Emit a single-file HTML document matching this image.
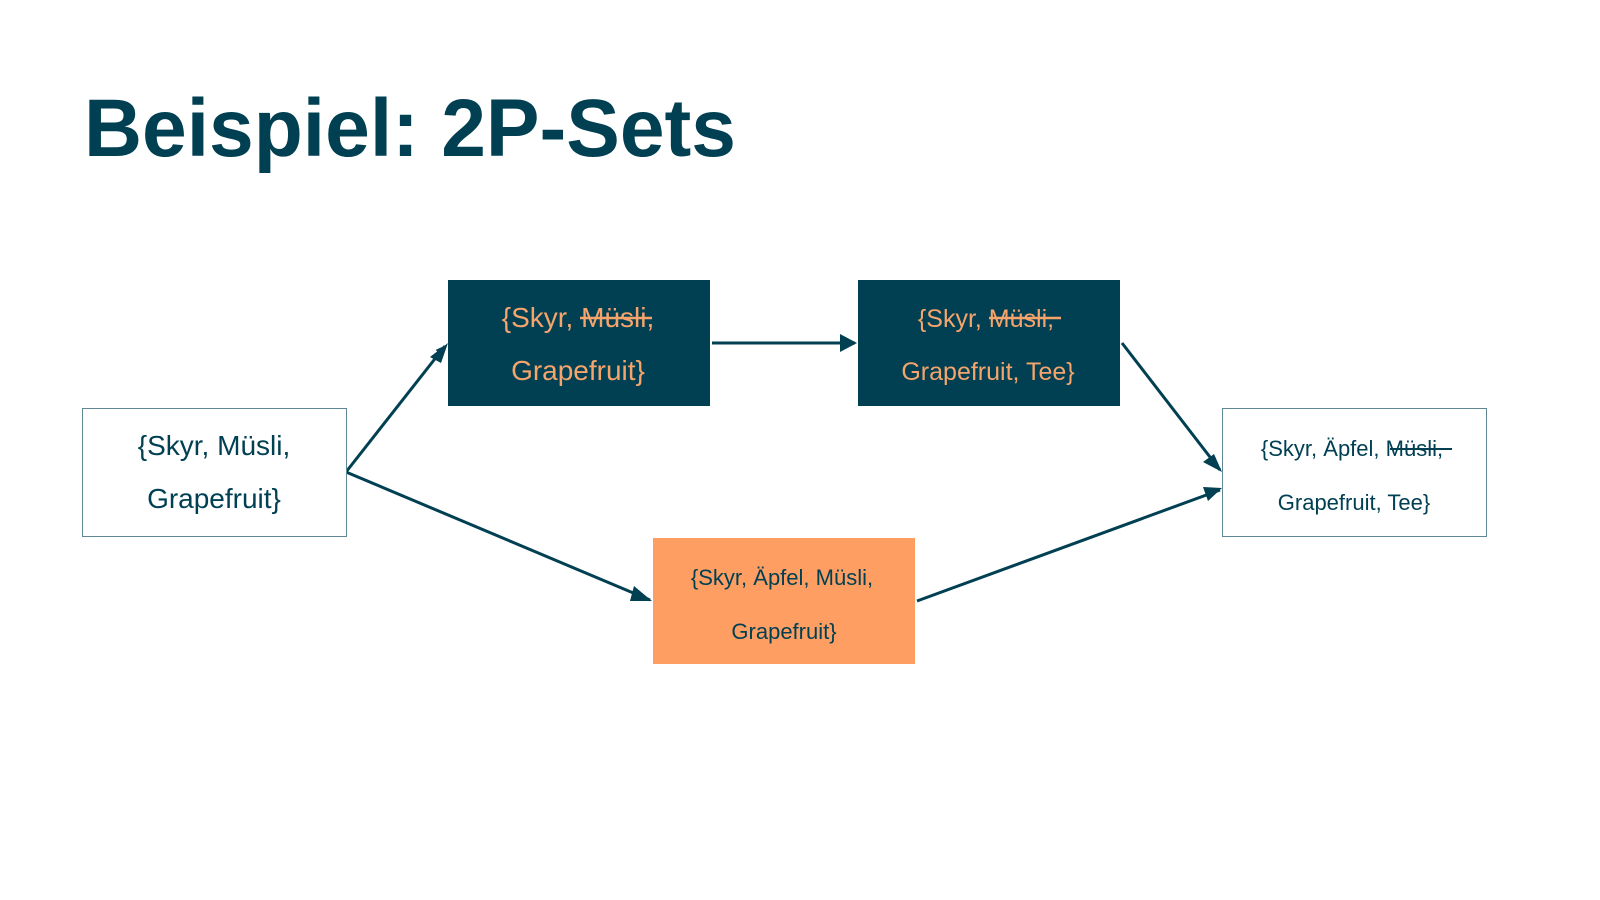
<!DOCTYPE html>
<html><head><meta charset="utf-8"><style>
html,body{margin:0;padding:0;background:#fff;}
svg{display:block;}
text{font-family:"Liberation Sans",sans-serif;}
</style></head><body>
<svg width="1600" height="900" viewBox="0 0 1600 900" xmlns="http://www.w3.org/2000/svg">
<defs>
<marker id="a" markerWidth="10" markerHeight="10" refX="9" refY="5" orient="auto" markerUnits="userSpaceOnUse" viewBox="0 0 10 10">
<path d="M0,0 L10,5 L0,10 z" fill="#004052"/>
</marker>
</defs>
<text x="84" y="156" font-size="82" font-weight="bold" fill="#004052" textLength="652" lengthAdjust="spacingAndGlyphs">Beispiel: 2P-Sets</text>

<g stroke="#004052" stroke-width="3" fill="none">
<line x1="346" y1="472" x2="445" y2="346" marker-end="url(#a)" style="marker-end:url(#a)"/>
<line x1="712" y1="343" x2="855" y2="343"/>
<line x1="346" y1="472" x2="650" y2="600"/>
<line x1="1122" y1="343" x2="1220" y2="470"/>
<line x1="917" y1="601" x2="1220" y2="490"/>
</g>
<g fill="#004052">
<path d="M448,343 L430,357 L441,363 z" transform="rotate(0)"/>
<path d="M857,343 L840,334 L840,352 z"/>
<path d="M652,601 L634,586 L630,601 z" />
<path d="M1222,472 L1214,454 L1203,462 z"/>
<path d="M1222,488 L1203,487 L1208,501 z"/>
</g>

<rect x="82.5" y="408.5" width="264" height="128" fill="#fff" stroke="#5f8794" stroke-width="1"/>
<text x="214" y="455" font-size="28" fill="#004052" text-anchor="middle">{Skyr, Müsli,</text>
<text x="214" y="508" font-size="28" fill="#004052" text-anchor="middle">Grapefruit}</text>

<rect x="448" y="280" width="262" height="126" fill="#004052"/>
<text x="578" y="327" font-size="28" fill="#f6a46c" text-anchor="middle">{Skyr, Müsli,</text>
<line x1="580" y1="318" x2="652" y2="318" stroke="#f6a46c" stroke-width="2.5"/>
<text x="578" y="380" font-size="28" fill="#f6a46c" text-anchor="middle">Grapefruit}</text>

<rect x="858" y="280" width="262" height="126" fill="#004052"/>
<text x="986" y="327" font-size="25" fill="#f6a46c" text-anchor="middle">{Skyr, Müsli,</text>
<line x1="989" y1="318" x2="1061" y2="318" stroke="#f6a46c" stroke-width="2.5"/>
<text x="988" y="380" font-size="25" fill="#f6a46c" text-anchor="middle">Grapefruit, Tee}</text>

<rect x="1222.5" y="408.5" width="264" height="128" fill="#fff" stroke="#5f8794" stroke-width="1"/>
<text x="1352" y="456" font-size="22" fill="#004052" text-anchor="middle">{Skyr, Äpfel, Müsli,</text>
<line x1="1390" y1="449" x2="1452" y2="449" stroke="#004052" stroke-width="2"/>
<text x="1354" y="510" font-size="22" fill="#004052" text-anchor="middle">Grapefruit, Tee}</text>

<rect x="653" y="538" width="262" height="126" fill="#ff9e63"/>
<text x="782" y="585" font-size="22" fill="#004052" text-anchor="middle">{Skyr, Äpfel, Müsli,</text>
<text x="784" y="639" font-size="22" fill="#004052" text-anchor="middle">Grapefruit}</text>
</svg>
</body></html>
